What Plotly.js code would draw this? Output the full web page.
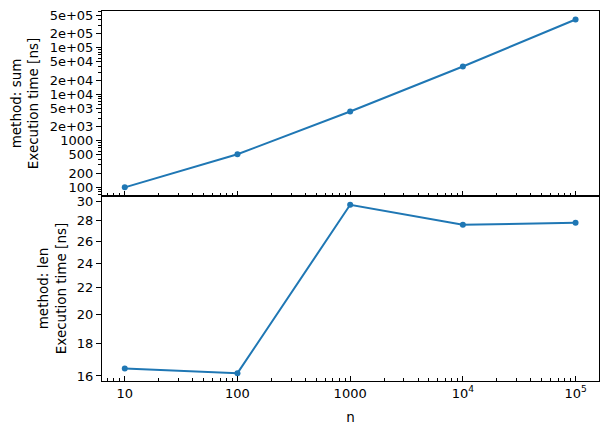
<!DOCTYPE html>
<html>
<head>
<meta charset="utf-8">
<script src="https://cdn.plot.ly/plotly-3.0.1.min.js"></script>
<style>html,body{margin:0;padding:0;background:#fff;}#chart{width:607px;height:434px;}</style>
</head>
<body>
<div id="chart"></div>
<script>
// Data
const n = [10, 100, 1000, 10000, 100000];
const sumTimes = [99, 510, 4250, 39500, 404000];
const lenTimes = [16.44, 16.16, 29.65, 27.6, 27.78];

const xTickVals = [10, 100, 1000, 10000, 100000];
const xTickText = ["10", "100", "1000", "10<sup>4</sup>", "10<sup>5</sup>"];
const sumTickVals = [100, 200, 500, 1000, 2000, 5000, 10000, 20000, 50000, 100000, 200000, 500000];
const sumTickText = ["100", "200", "500", "1000", "2e+03", "5e+03", "1e+04", "2e+04", "5e+04", "1e+05", "2e+05", "5e+05"];
const lenTickVals = [16, 18, 20, 22, 24, 26, 28, 30];
const lenTickText = ["16", "18", "20", "22", "24", "26", "28", "30"];

function minorLog(mults, lo, hi) {
  const out = [];
  for (let e = lo; e <= hi; e++) for (const m of mults) out.push(m * Math.pow(10, e));
  return out;
}
const xMinor = minorLog([2,3,4,5,6,7,8,9], 0, 5);
const yMinorSum = minorLog([3,4,6,7,8,9], 1, 5);

const color = '#1f77b4';
const font = {family: 'DejaVu Sans', size: 13, color: '#000'};
const titleFont = {family: 'DejaVu Sans', size: 13.5, color: '#000'};

const traces = [
  {x: n, y: sumTimes, xaxis: 'x', yaxis: 'y', mode: 'lines+markers',
   line: {color: color, width: 2}, marker: {color: color, size: 6}, showlegend: false},
  {x: n, y: lenTimes, xaxis: 'x2', yaxis: 'y2', mode: 'lines+markers',
   line: {color: color, width: 2}, marker: {color: color, size: 6}, showlegend: false}
];

const xcommon = {
  type: 'log', range: [0.798, 5.208], showgrid: false, zeroline: false,
  showline: true, linecolor: '#000', linewidth: 1, mirror: true,
  tickmode: 'array', tickvals: xTickVals, ticktext: xTickText,
  ticks: 'inside', ticklen: 5, tickwidth: 1, tickcolor: '#000',
  minor: {tickmode: 'array', tickvals: xMinor, ticks: 'inside', ticklen: 3, tickwidth: 1, tickcolor: '#000', showgrid: false},
  tickfont: font
};

const layout = {
  width: 607, height: 434,
  margin: {l: 102, r: 8, t: 11, b: 53},
  paper_bgcolor: '#fff', plot_bgcolor: '#fff',
  font: font,
  xaxis: Object.assign({}, xcommon, {anchor: 'y', matches: 'x2', showticklabels: false}),
  xaxis2: Object.assign({}, xcommon, {anchor: 'y2',
    title: {text: 'n', font: titleFont, standoff: 12}}),
  yaxis: {
    domain: [0.5, 1], type: 'log', range: [1.81, 5.79], anchor: 'x',
    showgrid: false, zeroline: false, showline: true, linecolor: '#000', linewidth: 1, mirror: true,
    tickmode: 'array', tickvals: sumTickVals, ticktext: sumTickText,
    ticks: 'outside', ticklen: 5, tickwidth: 1, tickcolor: '#000',
    minor: {tickmode: 'array', tickvals: yMinorSum, ticks: 'outside', ticklen: 3, tickwidth: 1, tickcolor: '#000', showgrid: false},
    tickfont: font,
    title: {text: 'method: sum<br>Execution time [ns]', font: titleFont, standoff: 7}
  },
  yaxis2: {
    domain: [0, 0.5], type: 'log', range: [1.1962, 1.4858], anchor: 'x2',
    showgrid: false, zeroline: false, showline: true, linecolor: '#000', linewidth: 1, mirror: true,
    tickmode: 'array', tickvals: lenTickVals, ticktext: lenTickText,
    ticks: 'outside', ticklen: 5, tickwidth: 1, tickcolor: '#000',
    tickfont: font,
    title: {text: 'method: len<br>Execution time [ns]', font: titleFont, standoff: 7}
  }
};

Plotly.newPlot('chart', traces, layout, {displayModeBar: false, staticPlot: true});
</script>
</body>
</html>
